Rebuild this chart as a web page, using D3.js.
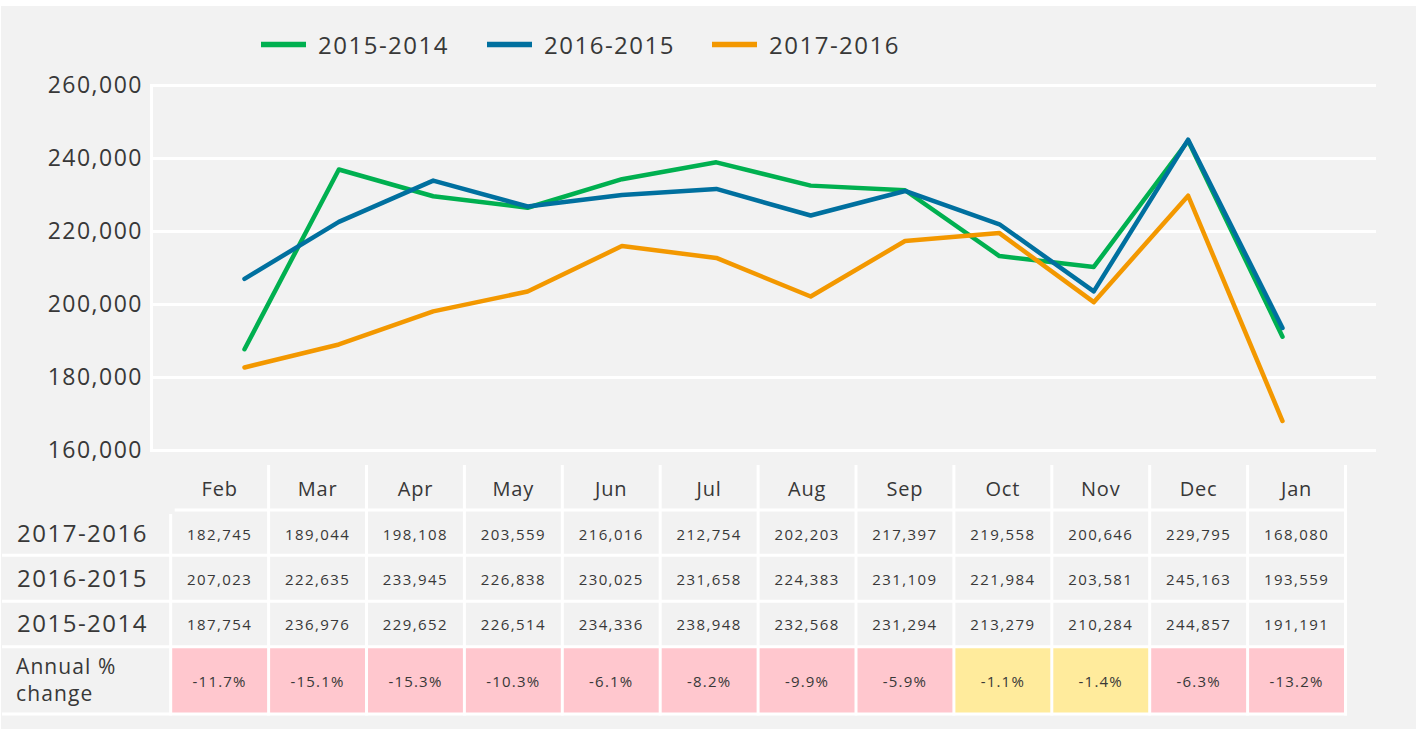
<!DOCTYPE html>
<html>
<head>
<meta charset="utf-8">
<script src="https://cdn.jsdelivr.net/npm/d3@7"></script>
<style>
  html, body { margin: 0; padding: 0; background: #ffffff; }
  svg { display: block; }
  text { font-family: "Open Sans", "Noto Sans", sans-serif; fill: #383838; }
</style>
</head>
<body>
<svg id="chart" width="1424" height="729"></svg>
<script>
const months = ["Feb","Mar","Apr","May","Jun","Jul","Aug","Sep","Oct","Nov","Dec","Jan"];
const series2015_2014 = [187754, 236976, 229652, 226514, 234336, 238948, 232568, 231294, 213279, 210284, 244857, 191191];
const series2016_2015 = [207023, 222635, 233945, 226838, 230025, 231658, 224383, 231109, 221984, 203581, 245163, 193559];
const series2017_2016 = [182745, 189044, 198108, 203559, 216016, 212754, 202203, 217397, 219558, 200646, 229795, 168080];
const annualChange = [-11.7, -15.1, -15.3, -10.3, -6.1, -8.2, -9.9, -5.9, -1.1, -1.4, -6.3, -13.2];
const yTicks = [160000, 180000, 200000, 220000, 240000, 260000];
const seriesNames = ["2015-2014", "2016-2015", "2017-2016"];
const tableRowNames = ["2017-2016", "2016-2015", "2015-2014"];

const colors = {"2015-2014": "#00b050", "2016-2015": "#00709f", "2017-2016": "#f39800"};
const seriesData = {"2015-2014": series2015_2014, "2016-2015": series2016_2015, "2017-2016": series2017_2016};

const svg = d3.select("#chart");
svg.append("rect").attr("x", 1).attr("y", 6).attr("width", 1415).attr("height", 723).attr("fill", "#f2f2f2");

// scales
const y = d3.scaleLinear().domain([160000, 260000]).range([450.5, 85.5]);
const x = d3.scalePoint().domain(months).range([244.5, 1282.5]);
const plotLeft = 151.5, plotRight = 1376;

// gridlines
svg.append("g").selectAll("line").data(yTicks).join("line")
  .attr("x1", plotLeft).attr("x2", plotRight)
  .attr("y1", d => y(d)).attr("y2", d => y(d))
  .attr("stroke", "#ffffff").attr("stroke-width", 3);
svg.append("line").attr("x1", plotLeft).attr("x2", plotLeft)
  .attr("y1", y(260000) - 1.5).attr("y2", y(160000) + 1.5)
  .attr("stroke", "#ffffff").attr("stroke-width", 3);

// y axis labels
const fmt = d3.format(",");
svg.append("g").selectAll("text").data(yTicks).join("text")
  .attr("x", 143).attr("y", d => y(d) + 7.5)
  .attr("text-anchor", "end")
  .attr("font-size", 23).attr("letter-spacing", 1.5)
  .text(d => fmt(d));

// lines
const line = d3.line().x((d, i) => x(months[i])).y(d => y(d));
seriesNames.forEach(name => {
  svg.append("path").datum(seriesData[name])
    .attr("d", line)
    .attr("fill", "none")
    .attr("stroke", colors[name])
    .attr("stroke-width", 4.5)
    .attr("stroke-linejoin", "round")
    .attr("stroke-linecap", "round");
});

// legend
const legendX = [261, 487, 712];
seriesNames.forEach((name, i) => {
  const g = svg.append("g").attr("transform", `translate(${legendX[i]},44.5)`);
  g.append("line").attr("x1", 0).attr("x2", 45).attr("y1", 0).attr("y2", 0)
    .attr("stroke", colors[name]).attr("stroke-width", 5.5);
  g.append("text").attr("x", 57).attr("y", 9.5)
    .attr("font-size", 24).attr("letter-spacing", 1.5).text(name);
});

// table
const colLeft = 170.7, colW = 97.9;
const headerTop = 465, headerBottom = 510;
const rowLines = [510, 555.3, 601.3, 646.8, 714];
const colCenter = i => colLeft + colW * (i + 0.5);

// annual cells fill
svg.append("g").selectAll("rect").data(annualChange).join("rect")
  .attr("x", (d, i) => colLeft + colW * i)
  .attr("y", rowLines[3])
  .attr("width", colW)
  .attr("height", rowLines[4] - rowLines[3])
  .attr("fill", d => d > -5 ? "#ffeb9c" : "#ffc7ce");

const tl = svg.append("g").attr("stroke", "#ffffff").attr("stroke-width", 3);
d3.range(1, 13).forEach(k => {
  tl.append("line").attr("x1", colLeft + colW * k).attr("x2", colLeft + colW * k)
    .attr("y1", headerTop).attr("y2", rowLines[4] + 1.5);
});
tl.append("line").attr("x1", colLeft).attr("x2", colLeft).attr("y1", 514).attr("y2", rowLines[4] + 1.5);
tl.append("line").attr("x1", colLeft + 4).attr("x2", colLeft + colW * 12 + 1.5).attr("y1", headerBottom).attr("y2", headerBottom);
rowLines.slice(1).forEach(yy => {
  tl.append("line").attr("x1", 2).attr("x2", colLeft + colW * 12 + 1.5).attr("y1", yy).attr("y2", yy);
});

// month headers
svg.append("g").selectAll("text").data(months).join("text")
  .attr("x", (d, i) => colCenter(i)).attr("y", 496)
  .attr("text-anchor", "middle").attr("font-size", 20).attr("letter-spacing", 0.8)
  .text(d => d);

// row labels and values
const rowBaselines = [539.5, 584.5, 630];
const labelBaselines = [541.7, 586.7, 631.7];
tableRowNames.forEach((name, r) => {
  svg.append("text").attr("x", 17).attr("y", labelBaselines[r])
    .attr("font-size", 24).attr("letter-spacing", 1.5).text(name);
  svg.append("g").selectAll("text").data(seriesData[name]).join("text")
    .attr("x", (d, i) => colCenter(i)).attr("y", rowBaselines[r])
    .attr("text-anchor", "middle").attr("font-size", 15).attr("letter-spacing", 1.4)
    .text(d => fmt(d));
});

svg.append("text").attr("x", 16).attr("y", 674).attr("font-size", 21).attr("letter-spacing", 1.1).text("Annual %");
svg.append("text").attr("x", 16).attr("y", 701).attr("font-size", 21).attr("letter-spacing", 1.1).text("change");

svg.append("g").selectAll("text").data(annualChange).join("text")
  .attr("x", (d, i) => colCenter(i)).attr("y", 686.5)
  .attr("text-anchor", "middle").attr("font-size", 15).attr("letter-spacing", 1.2)
  .text(d => d.toFixed(1) + "%");
</script>
</body>
</html>
